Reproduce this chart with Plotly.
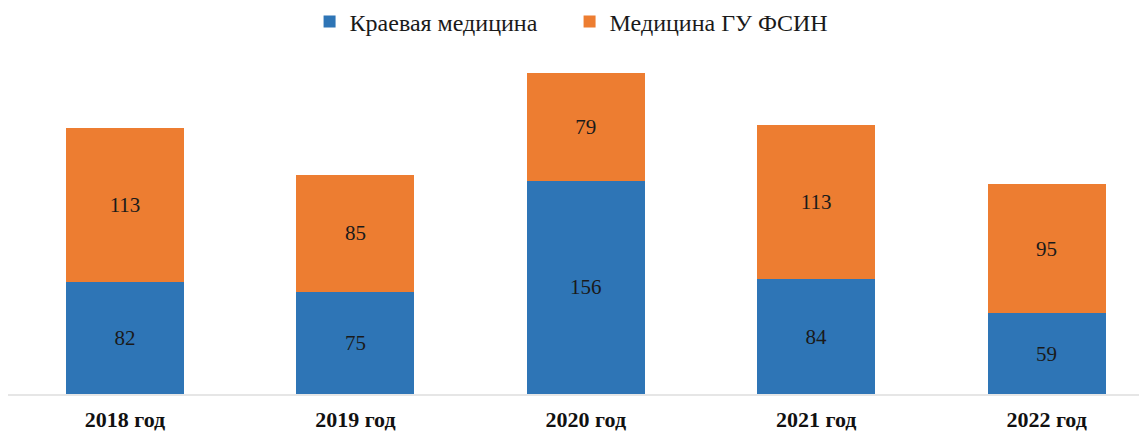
import plotly.graph_objects as go

categories = ["2018 год", "2019 год", "2020 год", "2021 год", "2022 год"]
regional = [82, 75, 156, 84, 59]
fsin = [113, 85, 79, 113, 95]
series_names = ["Краевая медицина", "Медицина ГУ ФСИН"]
colors = ["#2E75B6", "#ED7D31"]

x_idx = list(range(len(categories)))
serif = "Liberation Serif, Times New Roman, serif"
label_font = dict(family=serif, size=21, color="#1a1a1a")

fig = go.Figure()
for name, vals, col in zip(series_names, [regional, fsin], colors):
    fig.add_trace(go.Bar(
        x=x_idx, y=vals, name=name, marker=dict(color=col, line=dict(width=0)),
        width=0.513, text=[str(v) for v in vals], textposition="inside",
        insidetextanchor="middle", textfont=label_font, textangle=0,
        cliponaxis=False,
    ))

fig.update_layout(
    barmode="stack",
    width=1147, height=436,
    margin=dict(l=0, r=0, t=52, b=50, autoexpand=False),
    paper_bgcolor="white", plot_bgcolor="white",
    showlegend=True,
    legend=dict(orientation="h", xref="container", yref="container",
                x=0.4896, xanchor="center", y=0.968, yanchor="middle",
                font=dict(family=serif, size=24, color="#1a1a1a"),
                traceorder="normal", entrywidth=215, entrywidthmode="pixels"),
    uniformtext=dict(minsize=8, mode="show"),
)
fig.update_xaxes(
    range=[-0.5078, 4.4705], tickmode="array", tickvals=x_idx, ticktext=categories,
    showgrid=False, zeroline=False, showline=True, linecolor="#E6E6E6", linewidth=1.5,
    ticks="", automargin=False,
    tickfont=dict(family=serif, size=22, color="#111111", weight="bold"),
    ticklabelstandoff=5,
)
fig.update_yaxes(range=[0, 244.5], visible=False, showgrid=False, zeroline=False,
                 automargin=False)

fig.write_html("out.html")
